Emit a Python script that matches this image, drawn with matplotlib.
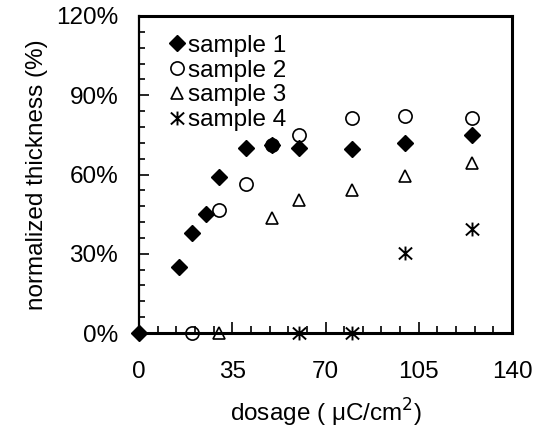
import numpy as np
import matplotlib.pyplot as plt
from matplotlib.path import Path
from matplotlib.ticker import MultipleLocator, FuncFormatter

plt.rcParams['font.family'] = ['Liberation Sans', 'DejaVu Sans']

# 数据
x1 = [0, 15, 20, 25, 30, 40, 50, 60, 80, 100, 125]
y1 = [0, 25, 38, 45, 59, 70, 71, 70, 69.5, 72, 75]
x2 = [20, 30, 40, 50, 60, 80, 100, 125]
y2 = [0, 46.5, 56.5, 71, 75, 81.5, 82.2, 81.5]
x3 = [30, 50, 60, 80, 100, 125]
y3 = [0, 43.5, 50.5, 54, 59.6, 64.3]
x4 = [60, 80, 100, 125]
y4 = [0, 0, 30.2, 39.5]
labels = ['sample 1', 'sample 2', 'sample 3', 'sample 4']

# X 加竖线的星形标记
star = Path([(-1, -0.9), (1, 0.9), (-1, 0.9), (1, -0.9), (0, -1.05), (0, 1.05)],
            [Path.MOVETO, Path.LINETO, Path.MOVETO, Path.LINETO, Path.MOVETO, Path.LINETO])

fig = plt.figure(figsize=(5.38, 4.38), dpi=100)
ax = fig.add_axes([139 / 538, 1 - 333 / 438, 373 / 538, 317 / 438])

ax.plot(x1, y1, 'D', color='black', ms=8, clip_on=False, zorder=3, label=labels[0])
ax.plot(x2, y2, 'o', mfc='none', mec='black', mew=1.2, ms=9.5, clip_on=False, zorder=3, label=labels[1])
ax.plot(x3, y3, '^', mfc='none', mec='black', mew=1.2, ms=8, clip_on=False, zorder=3, label=labels[2])
ax.plot(x4, y4, marker=star, ls='none', color='black', mew=1.4, ms=10, clip_on=False, zorder=3, label=labels[3])

ax.set_xlim(0, 140)
ax.set_ylim(0, 120)
ax.xaxis.set_major_locator(MultipleLocator(35))
ax.xaxis.set_minor_locator(MultipleLocator(7))
ax.yaxis.set_major_locator(MultipleLocator(30))
ax.yaxis.set_minor_locator(MultipleLocator(6))
ax.yaxis.set_major_formatter(FuncFormatter(lambda v, p: '%d%%' % v))

ax.tick_params(which='both', direction='in', labelsize=17.5, width=1.2)
ax.tick_params(axis='x', which='major', length=8, pad=20)
ax.tick_params(axis='x', which='minor', length=5)
ax.tick_params(axis='y', which='major', length=7, pad=15)
ax.tick_params(axis='y', which='minor', length=4)

for s in ['top', 'right', 'bottom']:
    ax.spines[s].set_linewidth(2.2)
ax.spines['left'].set_linewidth(1.6)

ax.set_xlabel('dosage ( μC/cm$^2$)', fontsize=17.5, labelpad=10)
ax.set_ylabel('normalized thickness (%)', fontsize=17.5, labelpad=6)

ax.legend(loc='upper left', frameon=False, fontsize=17.5, handlelength=0.6,
          handletextpad=0.15, labelspacing=0.12, borderaxespad=0.0,
          bbox_to_anchor=(0.056, 0.972))

fig.savefig('out.png', dpi=100)
